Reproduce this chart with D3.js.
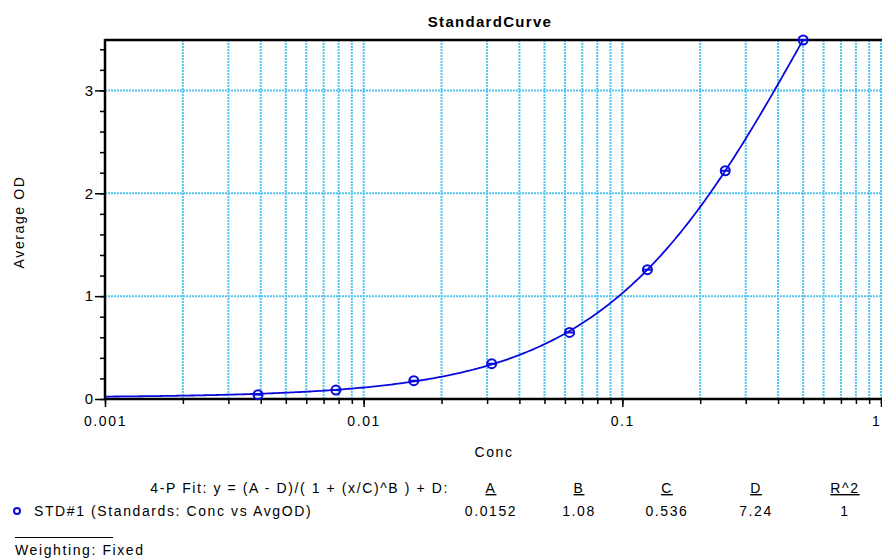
<!DOCTYPE html>
<html>
<head>
<meta charset="utf-8">
<script src="https://cdn.jsdelivr.net/npm/d3@7"></script>
<style>
  body { margin: 0; background: #fff; }
  svg { display: block; font-family: "Liberation Sans", Arial, sans-serif; }
  .lbl { font-size: 14px; letter-spacing: 1.6px; fill: #000; }
</style>
</head>
<body>
<svg id="chart" width="882" height="558"></svg>
<script>
// Standard dilution series (concentration) and measured average OD
const conc = [0.00390625, 0.0078125, 0.015625, 0.03125, 0.0625, 0.125, 0.25, 0.5];
const avgOD = [0.042, 0.087, 0.178, 0.343, 0.647, 1.257, 2.219, 3.49];

// 4-parameter logistic fit results
const paramNames = ["A", "B", "C", "D", "R^2"];
const paramLabels = ["0.0152", "1.08", "0.536", "7.24", "1"];
const fitA = 0.0152, fitB = 1.08, fitC = 0.536, fitD = 7.24;

// Axis tick labels
const xTickValues = [0.001, 0.01, 0.1, 1];
const xTickLabels = ["0.001", "0.01", "0.1", "1"];
const yTickValues = [0, 1, 2, 3];

const svg = d3.select("#chart");
const plotL = 105, plotR = 881, plotT = 40, plotB = 399;

const x = d3.scaleLog().domain([0.001, 1]).range([plotL, plotR]);
const y = d3.scaleLinear().domain([0, 3.49]).range([plotB, plotT]);

const gridColor = "#52c6f0";

// minor log positions for grid lines
const minorX = [];
[0.001, 0.01, 0.1].forEach(dec => { for (let k = 1; k <= 9; k++) minorX.push(dec * k); });
minorX.push(1);

// vertical grid
svg.append("g").selectAll("line").data(minorX.filter(v => v > 0.001)).join("line")
  .attr("x1", d => x(d)).attr("x2", d => x(d))
  .attr("y1", plotT).attr("y2", plotB)
  .attr("stroke", gridColor).attr("stroke-width", 2)
  .attr("stroke-dasharray", "2,1");

// horizontal grid
svg.append("g").selectAll("line").data(yTickValues.filter(v => v > 0)).join("line")
  .attr("x1", plotL).attr("x2", plotR)
  .attr("y1", d => y(d)).attr("y2", d => y(d))
  .attr("stroke", gridColor).attr("stroke-width", 2)
  .attr("stroke-dasharray", "2,1");

// x axis (major + minor ticks)
const xAxis = svg.append("g").attr("transform", `translate(0,${plotB})`);
xAxis.call(d3.axisBottom(x).tickValues(minorX).tickSize(5).tickFormat(""))
  .call(g => g.select(".domain").remove());
xAxis.selectAll(".tick line").attr("stroke", "#000").attr("stroke-width", 1.5);
xAxis.append("g").call(d3.axisBottom(x).tickValues(xTickValues).tickSize(8)
    .tickFormat((d, i) => xTickLabels[i]))
  .call(g => g.select(".domain").remove())
  .call(g => g.selectAll(".tick line").attr("stroke", "#000").attr("stroke-width", 1.5))
  .call(g => g.selectAll(".tick text").attr("class", "lbl").attr("font-size", null)
      .attr("font-family", null).attr("dy", "1.15em"))
  .call(g => g.selectAll(".tick text").filter(d => d === 1)
      .attr("text-anchor", "end").attr("x", 0));
svg.append("line").attr("x1", plotL).attr("x2", 882).attr("y1", plotB).attr("y2", plotB)
  .attr("stroke", "#000").attr("stroke-width", 2.5);

// y axis (major + minor ticks)
const yMinor = d3.range(0, 3.41, 0.2);
const yAxis = svg.append("g").attr("transform", `translate(${plotL},0)`);
yAxis.call(d3.axisLeft(y).tickValues(yMinor).tickSize(5).tickFormat(""))
  .call(g => g.select(".domain").remove());
yAxis.selectAll(".tick line").attr("stroke", "#000").attr("stroke-width", 1.5);
yAxis.append("g").call(d3.axisLeft(y).tickValues(yTickValues).tickSize(10).tickFormat(d3.format("d")))
  .call(g => g.select(".domain").remove())
  .call(g => g.selectAll(".tick line").attr("stroke", "#000").attr("stroke-width", 1.5))
  .call(g => g.selectAll(".tick text").attr("font-size", 15).attr("fill", "#000")
      .attr("font-family", null).attr("x", -12));
svg.append("line").attr("x1", plotL).attr("x2", plotL).attr("y1", plotT - 1).attr("y2", plotB + 1)
  .attr("stroke", "#000").attr("stroke-width", 2.5);
svg.append("line").attr("x1", plotL).attr("x2", 882).attr("y1", plotT).attr("y2", plotT)
  .attr("stroke", "#000").attr("stroke-width", 2.5);

// fitted curve
const fit = c => fitD + (fitA - fitD) / (1 + Math.pow(c / fitC, fitB));
const curveX = d3.range(0, 301).map(i => Math.pow(10, Math.log10(0.001) + i * (Math.log10(0.5) - Math.log10(0.001)) / 300));
svg.append("path").datum(curveX)
  .attr("d", d3.line().x(d => x(d)).y(d => y(fit(d))))
  .attr("fill", "none").attr("stroke", "#0a0adc").attr("stroke-width", 1.8);

// data points
const pts = conc.map((c, i) => ({ c, v: avgOD[i] }));
svg.append("g").selectAll("circle").data(pts).join("circle")
  .attr("cx", d => x(d.c)).attr("cy", d => y(d.v)).attr("r", 4.5)
  .attr("fill", "none").attr("stroke", "#0a0adc").attr("stroke-width", 2);
svg.append("g").selectAll("line").data(pts).join("line")
  .attr("x1", d => x(d.c) - 4.5).attr("x2", d => x(d.c) + 4.5)
  .attr("y1", d => y(d.v)).attr("y2", d => y(d.v))
  .attr("stroke", "#0a0adc").attr("stroke-width", 2);

// titles
svg.append("text").attr("x", 490).attr("y", 27).attr("text-anchor", "middle")
  .attr("font-size", 15).attr("letter-spacing", 1.3).attr("font-weight", "bold").text("StandardCurve");
svg.append("text").attr("class", "lbl").attr("x", 494).attr("y", 457).attr("text-anchor", "middle")
  .text("Conc");
svg.append("text").attr("class", "lbl").attr("transform", "translate(24,222) rotate(-90)")
  .attr("text-anchor", "middle").attr("font-size", 13).attr("letter-spacing", 1.2)
  .attr("fill", "#222").text("Average OD");

// fit parameter table
svg.append("text").attr("class", "lbl").attr("x", 449).attr("y", 493).attr("text-anchor", "end")
  .text("4-P Fit: y = (A - D)/( 1 + (x/C)^B ) + D:");
const colX = [491, 579, 667, 756, 845];
paramNames.forEach((n, i) => {
  svg.append("text").attr("class", "lbl").attr("x", colX[i]).attr("y", 493).attr("text-anchor", "middle")
    .attr("text-decoration", "underline").text(n);
  svg.append("text").attr("class", "lbl").attr("x", colX[i]).attr("y", 516).attr("text-anchor", "middle")
    .text(paramLabels[i]);
});
svg.append("circle").attr("cx", 17).attr("cy", 511).attr("r", 3)
  .attr("fill", "none").attr("stroke", "#0a0adc").attr("stroke-width", 2);
svg.append("text").attr("class", "lbl").attr("x", 34).attr("y", 516)
  .text("STD#1 (Standards: Conc vs AvgOD)");
svg.append("line").attr("x1", 15).attr("x2", 113).attr("y1", 537.5).attr("y2", 537.5)
  .attr("stroke", "#000").attr("stroke-width", 1);
svg.append("text").attr("class", "lbl").attr("x", 15).attr("y", 555).text("Weighting: Fixed");
</script>
</body>
</html>
